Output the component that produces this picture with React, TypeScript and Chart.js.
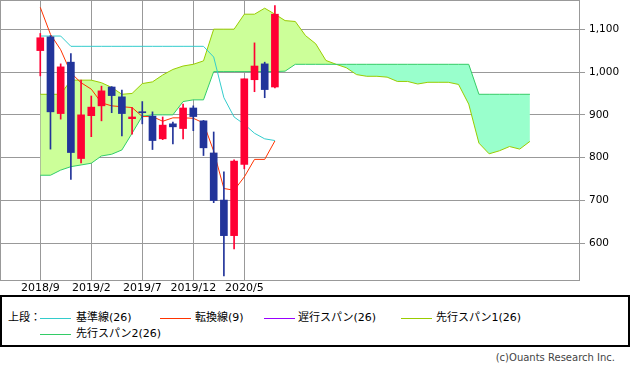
import React, { useEffect, useRef } from "react";
import { Chart, registerables } from "chart.js";

Chart.register(...registerables);

// ---- data (monthly) ----
const months = [
  "2018/9", "2018/10", "2018/11", "2018/12",
  "2019/1", "2019/2", "2019/3", "2019/4", "2019/5", "2019/6", "2019/7", "2019/8",
  "2019/9", "2019/10", "2019/11", "2019/12",
  "2020/1", "2020/2", "2020/3", "2020/4", "2020/5", "2020/6", "2020/7", "2020/8",
];
const opens = [1050, 1082, 903, 1023, 798, 898, 921, 965, 942, 891, 907, 897, 844, 879, 868, 916, 886, 811, 701, 618, 784, 982, 1019, 965];
const highs = [1090, 1085, 1019, 1043, 981, 944, 967, 966, 958, 917, 931, 907, 895, 883, 925, 921, 887, 860, 767, 795, 984, 1068, 1023, 1155];
const lows = [991, 820, 890, 749, 788, 849, 886, 905, 851, 855, 879, 819, 842, 832, 844, 863, 805, 695, 524, 587, 774, 954, 940, 963];
const closes = [1080, 907, 1012, 812, 900, 918, 956, 945, 903, 895, 905, 840, 876, 872, 916, 896, 823, 700, 618, 792, 984, 1014, 959, 1135];

const tenkan = [1151, 1088, 1052, 998, 975, 960, 928, 921, 919, 917, 896, 896, 885, 893, 893, 892, 881, 815, 728, 724, 755, 796, 796, 839];
const kijun = [1084, 1084, 1084, 1060, 1060, 1060, 1060, 1060, 1060, 1060, 1060, 1060, 1060, 1060, 1060, 1060, 1060, 1035, 940, 895, 878, 857, 844, 840];

const senkou1 = [
  948, 948, 948, 981, 981, 981, 975, 964, 948, 950, 973, 977, 993, 1006, 1014, 1018, 1026,
  1100, 1100, 1100, 1135, 1135, 1149, 1135, 1120, 1118, 1085, 1066, 1027, 1018, 1010, 994,
  990, 990, 988, 978, 978, 972, 976, 976, 976, 971, 925, 834, 809, 816, 826, 820, 838,
];
const senkou2 = [
  759, 759, 771, 779, 783, 787, 804, 808, 818, 857, 897, 900, 900, 900, 931, 935, 935,
  1001, 1001, 1001, 1001, 1001, 1001, 1001, 1002,
  1018, 1018, 1018, 1018, 1018, 1018, 1018, 1018, 1018, 1018, 1018, 1018, 1018, 1018, 1018, 1018, 1018, 1018,
  948, 948, 948, 948, 948, 948,
];

const xTickIndex = [0, 5, 10, 15, 20];
const yTicks = [600, 700, 800, 900, 1000, 1100];

const X_MIN = -3.85;
const X_MAX = 52.81;
const Y_MIN = 514.4;
const Y_MAX = 1165.8;

const RED = "#ff0033";
const BLUE = "#22349a";
const GRID = "#999999";

const frame = {
  id: "frame",
  beforeDatasetsDraw(chart: any) {
    const { ctx, chartArea: a } = chart;
    ctx.save();
    ctx.strokeStyle = GRID;
    ctx.lineWidth = 1;
    ctx.strokeRect(a.left - 0.5, a.top - 0.5, a.right - a.left + 1, a.bottom - a.top + 1);
    ctx.restore();
  },
};

const legendItems = [
  { label: "基準線(26)", color: "#33cccc", line: 40, text: 76, row: 0 },
  { label: "転換線(9)", color: "#ff3300", line: 160, text: 195, row: 0 },
  { label: "遅行スパン(26)", color: "#9900ff", line: 264, text: 298, row: 0 },
  { label: "先行スパン1(26)", color: "#99cc00", line: 401, text: 436, row: 0 },
  { label: "先行スパン2(26)", color: "#33cc66", line: 40, text: 76, row: 1 },
];

const noPad = (s: any) => {
  s.paddingTop = 0;
  s.paddingBottom = 0;
  s.paddingLeft = 0;
  s.paddingRight = 0;
};

export default function App() {
  const ref = useRef<HTMLCanvasElement | null>(null);

  useEffect(() => {
    if (!ref.current) return;
    const colors = opens.map((o, i) => (closes[i] >= o ? RED : BLUE));
    const chart = new Chart(ref.current, {
      type: "line",
      data: {
        datasets: [
          {
            type: "line",
            label: "先行スパン1(26)",
            data: senkou1.map((v, i) => ({ x: i, y: v })),
            borderColor: "#99cc00",
            borderWidth: 1,
            pointRadius: 0,
            tension: 0,
            fill: { target: 1, above: "#ccff99", below: "#99ffcc" },
            order: 5,
          },
          {
            type: "line",
            label: "先行スパン2(26)",
            data: senkou2.map((v, i) => ({ x: i, y: v })),
            borderColor: "#33cc66",
            borderWidth: 1,
            pointRadius: 0,
            tension: 0,
            fill: false,
            order: 4,
          },
          {
            type: "line",
            label: "基準線(26)",
            data: kijun.map((v, i) => ({ x: i, y: v })),
            borderColor: "#33cccc",
            borderWidth: 1,
            pointRadius: 0,
            tension: 0,
            fill: false,
            order: 3,
          },
          {
            type: "line",
            label: "転換線(9)",
            data: tenkan.map((v, i) => ({ x: i, y: v })),
            borderColor: "#ff3300",
            borderWidth: 1,
            pointRadius: 0,
            tension: 0,
            fill: false,
            order: 2,
          },
          {
            type: "bar",
            label: "wick",
            data: lows.map((l, i) => ({ x: i, y: [l, highs[i]] })) as any,
            backgroundColor: colors,
            barThickness: 1,
            grouped: false,
            order: 1,
          },
          {
            type: "bar",
            label: "body",
            data: opens.map((o, i) => ({ x: i, y: [o, closes[i]] })) as any,
            backgroundColor: colors,
            barThickness: 7,
            minBarLength: 1,
            grouped: false,
            order: 0,
          },
        ] as any,
      },
      options: {
        animation: false,
        responsive: false,
        devicePixelRatio: 1,
        layout: { padding: { top: 1, left: 1, right: 0, bottom: 0 } },
        plugins: { legend: { display: false }, tooltip: { enabled: false } },
        scales: {
          x: {
            type: "linear",
            min: X_MIN,
            max: X_MAX,
            offset: false,
            afterBuildTicks: (s: any) => {
              s.ticks = xTickIndex.map((v) => ({ value: v }));
            },
            afterFit: (s: any) => {
              s.height = 15;
              noPad(s);
            },
            grid: { color: GRID, drawTicks: false, offset: false, lineWidth: 1 },
            border: { display: false },
            ticks: {
              autoSkip: false,
              maxRotation: 0,
              padding: 2,
              color: "#000",
              font: { family: "DejaVu Sans", size: 11 },
              callback: (v: any) => months[v as number] ?? "",
            },
          },
          y: {
            type: "linear",
            position: "right",
            min: Y_MIN,
            max: Y_MAX,
            afterBuildTicks: (s: any) => {
              s.ticks = yTicks.map((v) => ({ value: v }));
            },
            afterFit: (s: any) => {
              s.width = 54;
              noPad(s);
            },
            grid: { color: GRID, tickLength: 6, tickColor: GRID, drawTicks: true },
            border: { display: false },
            ticks: {
              padding: 4,
              color: "#000",
              font: { family: "DejaVu Sans", size: 10.5 },
              callback: (v: any) => Number(v).toLocaleString("en-US"),
            },
          },
        },
      },
      plugins: [frame],
    } as any);
    return () => chart.destroy();
  }, []);

  const font = "'DejaVu Sans', 'Noto Sans CJK JP', sans-serif";
  const rowY = [318, 334];

  return (
    <div style={{ position: "relative", width: 633, height: 373, background: "#fff", fontFamily: font }}>
      <style>{"body{margin:0;}"}</style>
      <canvas ref={ref} width={633} height={295} style={{ display: "block", width: 633, height: 295 }} />
      <div
        style={{
          position: "absolute",
          left: 0,
          top: 295,
          width: 630,
          height: 52,
          boxSizing: "border-box",
          border: "2px solid #000",
        }}
      />
      <div style={{ position: "absolute", left: 8, top: rowY[0] - 7, fontSize: 11, lineHeight: "14px", whiteSpace: "nowrap" }}>
        上段：
      </div>
      {legendItems.map((it) => (
        <React.Fragment key={it.label}>
          <div
            style={{
              position: "absolute",
              left: it.line,
              top: rowY[it.row],
              width: 31,
              height: 1,
              background: it.color,
            }}
          />
          <div
            style={{
              position: "absolute",
              left: it.text,
              top: rowY[it.row] - 7,
              fontSize: 11,
              lineHeight: "14px",
              whiteSpace: "nowrap",
              color: "#000",
            }}
          >
            {it.label}
          </div>
        </React.Fragment>
      ))}
      <div
        style={{
          position: "absolute",
          right: 18,
          top: 351,
          fontSize: 10,
          lineHeight: "14px",
          color: "#444",
          whiteSpace: "nowrap",
          fontFamily: "'DejaVu Sans', sans-serif",
        }}
      >
        (c)Ouants Research Inc.
      </div>
    </div>
  );
}
